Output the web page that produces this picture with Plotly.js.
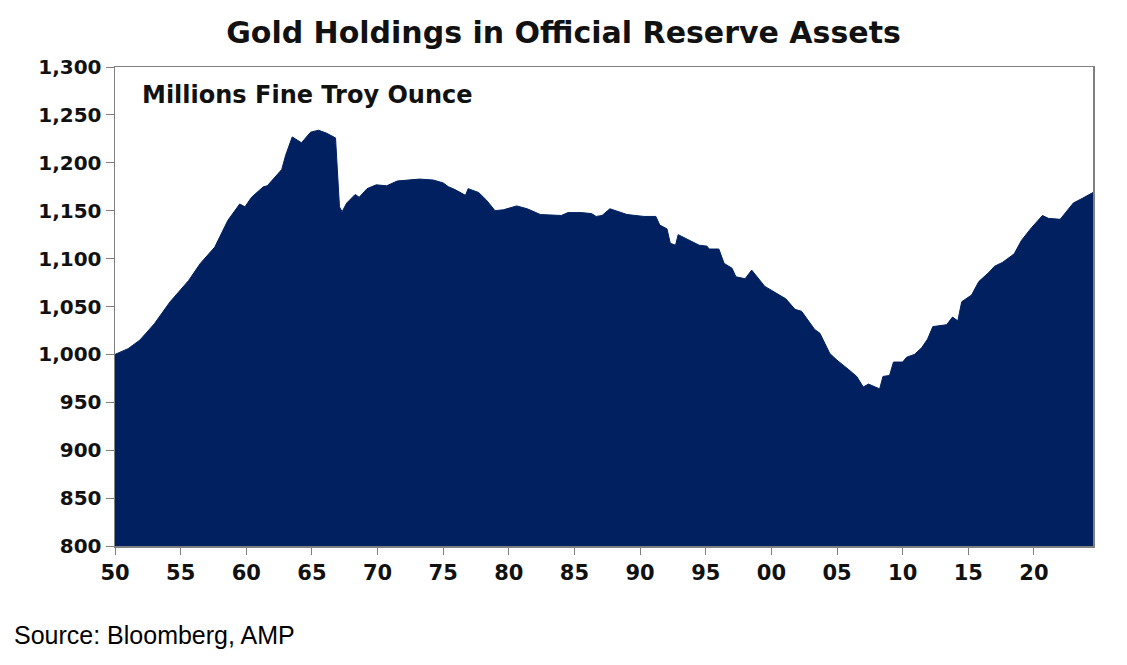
<!DOCTYPE html>
<html>
<head>
<meta charset="utf-8">
<script src="https://cdn.plot.ly/plotly-3.0.1.min.js"></script>
<style>
  html, body { margin: 0; padding: 0; background: #fff; }
  #chart { width: 1127px; height: 665px; }
</style>
</head>
<body>
<div id="chart"></div>
<script>
// gold holdings, millions fine troy ounce
const years = [
  1950.0, 1951.0, 1951.9, 1953.0, 1954.2, 1955.6, 1956.5, 1957.6, 1958.6, 1959.5,
  1959.9, 1960.4, 1961.3, 1961.6, 1962.7, 1963.0, 1963.5, 1964.2, 1964.4, 1964.9,
  1965.5, 1966.1, 1966.8, 1967.1, 1967.3, 1967.65, 1968.3, 1968.6, 1969.2, 1969.9,
  1970.7, 1971.5, 1973.2, 1974.25, 1975.0, 1975.4, 1975.9, 1976.7, 1976.9, 1977.7,
  1978.3, 1978.95, 1979.6, 1980.6, 1981.4, 1982.4, 1984.0, 1984.5, 1985.5, 1986.3,
  1986.65, 1987.1, 1987.7, 1989.0, 1990.3, 1991.2, 1991.5, 1992.05, 1992.3, 1992.7,
  1992.9, 1993.65, 1994.5, 1995.1, 1995.25, 1996.0, 1996.4, 1997.0, 1997.3, 1998.0,
  1998.5, 1999.5, 2000.4, 2001.1, 2001.8, 2002.3, 2003.3, 2003.7, 2004.45, 2005.0,
  2005.9, 2006.5, 2007.0, 2007.4, 2008.25, 2008.5, 2009.0, 2009.3, 2010.0, 2010.3,
  2010.9, 2011.45, 2011.9, 2012.3, 2013.35, 2013.8, 2014.2, 2014.5, 2015.25, 2015.8,
  2016.6, 2017.0, 2017.6, 2017.9, 2018.5, 2019.05, 2019.8, 2020.65, 2021.1, 2022.0,
  2022.4, 2023.0, 2023.7, 2024.5
];
const holdings = [
  1000, 1006, 1015, 1032, 1055, 1077, 1095, 1112, 1140, 1157,
  1154, 1164, 1175, 1176, 1193, 1208, 1227, 1221, 1224, 1232,
  1234, 1231, 1226, 1154, 1149, 1158, 1167, 1164, 1173, 1177,
  1176, 1181, 1183, 1182, 1179, 1175, 1172, 1166, 1173, 1169,
  1161, 1150, 1151, 1155, 1152, 1146, 1145, 1148, 1148, 1147,
  1144, 1145, 1152, 1146, 1144, 1144, 1135, 1131, 1116, 1114,
  1125, 1120, 1114, 1113, 1110, 1110, 1095, 1090, 1081, 1079,
  1088, 1071, 1064, 1058, 1047, 1045, 1026, 1022, 1001, 994,
  984, 977, 966, 969, 964, 977, 978, 992, 992, 997,
  1000, 1007, 1016, 1029, 1031, 1039, 1035, 1055, 1062, 1076,
  1086, 1092, 1096, 1099, 1105, 1119, 1132, 1145, 1142, 1141,
  1148, 1158, 1163, 1169
];
const tickYears = [1950, 1955, 1960, 1965, 1970, 1975, 1980, 1985, 1990, 1995, 2000, 2005, 2010, 2015, 2020];
const tickLabels = ['50', '55', '60', '65', '70', '75', '80', '85', '90', '95', '00', '05', '10', '15', '20'];

const boldFont = 'DejaVu Sans, Arial, sans-serif';

const trace = {
  x: years,
  y: holdings,
  type: 'scatter',
  mode: 'lines',
  line: { color: '#002060', width: 1 },
  fill: 'tozeroy',
  fillcolor: '#002060',
  hoverinfo: 'x+y'
};

const layout = {
  width: 1127,
  height: 665,
  margin: { l: 115, r: 34, t: 67, b: 119 },
  paper_bgcolor: '#ffffff',
  plot_bgcolor: '#ffffff',
  showlegend: false,
  title: {
    text: '<b>Gold Holdings in Official Reserve Assets</b>',
    font: { family: boldFont, size: 30, color: '#111111' },
    x: 0.5, xref: 'container', xanchor: 'center',
    y: 1 - 32 / 665, yref: 'container', yanchor: 'middle'
  },
  xaxis: {
    range: [1950, 2024.5],
    tickmode: 'array',
    tickvals: tickYears,
    ticktext: tickLabels,
    ticks: 'outside',
    ticklen: 7,
    tickwidth: 1,
    tickcolor: '#808080',
    tickfont: { family: boldFont, size: 21, color: '#111111', weight: 'bold' },
    showgrid: false,
    zeroline: false,
    showline: true,
    linecolor: '#808080',
    linewidth: 1.5,
    mirror: true
  },
  yaxis: {
    range: [800, 1300],
    dtick: 50,
    tickformat: ',',
    ticks: 'outside',
    ticklen: 8,
    tickwidth: 1,
    tickcolor: '#808080',
    tickfont: { family: boldFont, size: 20, color: '#111111', weight: 'bold' },
    showgrid: false,
    zeroline: false,
    showline: true,
    linecolor: '#808080',
    linewidth: 1.5,
    mirror: true
  },
  annotations: [
    {
      text: '<b>Millions Fine Troy Ounce</b>',
      xref: 'paper', yref: 'paper',
      x: (140 - 115) / 978, y: (546 - 95) / 479,
      xanchor: 'left', yanchor: 'middle',
      showarrow: false,
      font: { family: boldFont, size: 24, color: '#111111' }
    },
    {
      text: 'Source: Bloomberg, AMP',
      xref: 'paper', yref: 'paper',
      x: (12 - 115) / 978, y: (546 - 635) / 479,
      xanchor: 'left', yanchor: 'middle',
      showarrow: false,
      font: { family: 'Liberation Sans, Arial, sans-serif', size: 25, color: '#000000' }
    }
  ]
};

Plotly.newPlot('chart', [trace], layout, { displayModeBar: false, staticPlot: true });
</script>
</body>
</html>
